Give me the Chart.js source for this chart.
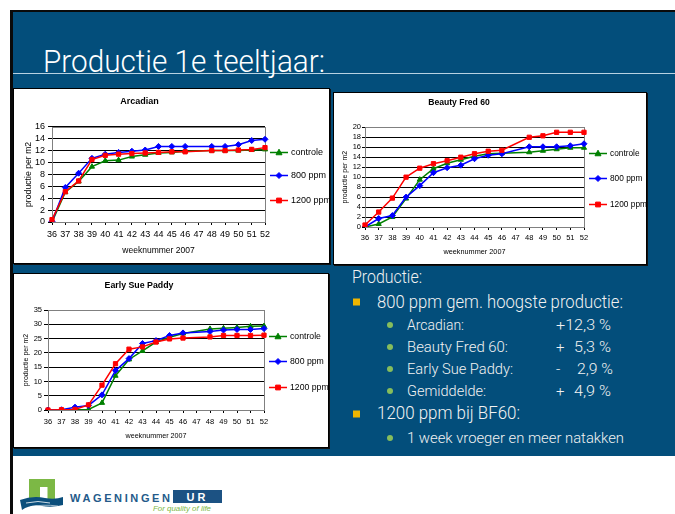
<!DOCTYPE html>
<html>
<head>
<meta charset="utf-8">
<script src="https://cdn.jsdelivr.net/npm/chart.js@4.4.1/dist/chart.umd.min.js"></script>
<style>
  html, body { margin: 0; padding: 0; background: #fff; }
  #page { position: relative; width: 675px; height: 514px; overflow: hidden; }
  .box { position: absolute; background: #fff; border: 1px solid #000; box-sizing: border-box; box-shadow: 1px 1px 0 #111; }
  .box canvas { position: absolute; left: 0; top: 0; }
  svg text { font-family: Roboto, "Liberation Sans", sans-serif; }
</style>
</head>
<body>
<div id="page">
<svg width="675" height="514" style="position:absolute;left:0;top:0">
  <rect width="675" height="514" fill="#ffffff"/>
  <rect x="13" y="12" width="662" height="444" fill="#034e7b"/>
  <rect x="10" y="10" width="665" height="2" fill="#0a0a0a"/>
  <rect x="10" y="10" width="3" height="504" fill="#0a0a0a"/>
  <line x1="13" y1="73.5" x2="675" y2="73.5" stroke="#b8d2e2" stroke-width="1.2"/>
  <text x="43" y="72" font-size="31" font-weight="300" fill="#ffffff" textLength="282" lengthAdjust="spacingAndGlyphs">Productie 1e teeltjaar:</text>

  <g fill="#f2f2f2" font-weight="300">
    <text x="352" y="283" font-size="18" textLength="70" lengthAdjust="spacingAndGlyphs">Productie:</text>
    <text x="377" y="308" font-size="18" textLength="246" lengthAdjust="spacingAndGlyphs">800 ppm gem. hoogste productie:</text>
    <text x="407" y="330" font-size="15" textLength="57" lengthAdjust="spacingAndGlyphs">Arcadian:</text>
    <text x="407" y="352" font-size="15" textLength="101" lengthAdjust="spacingAndGlyphs">Beauty Fred 60:</text>
    <text x="407" y="374" font-size="15" textLength="106" lengthAdjust="spacingAndGlyphs">Early Sue Paddy:</text>
    <text x="407" y="396" font-size="15" textLength="79" lengthAdjust="spacingAndGlyphs">Gemiddelde:</text>
    <text x="556" y="330" font-size="15" textLength="55" lengthAdjust="spacingAndGlyphs">+12,3 %</text>
    <text x="556" y="352" font-size="15">+</text>
    <text x="574" y="352" font-size="15" textLength="37" lengthAdjust="spacingAndGlyphs">5,3 %</text>
    <text x="556" y="374" font-size="15">-</text>
    <text x="577" y="374" font-size="15" textLength="36" lengthAdjust="spacingAndGlyphs">2,9 %</text>
    <text x="556" y="396" font-size="15">+</text>
    <text x="574" y="396" font-size="15" textLength="37" lengthAdjust="spacingAndGlyphs">4,9 %</text>
    <text x="377" y="419" font-size="18" textLength="143" lengthAdjust="spacingAndGlyphs">1200 ppm bij BF60:</text>
    <text x="407" y="443" font-size="15" textLength="217" lengthAdjust="spacingAndGlyphs">1 week vroeger en meer natakken</text>
  </g>
  <rect x="353" y="298.5" width="7" height="7" fill="#efb500"/>
  <rect x="353" y="410.5" width="7" height="7" fill="#efb500"/>
  <g fill="#86bd5c">
    <circle cx="390" cy="325" r="3"/>
    <circle cx="390" cy="347" r="3"/>
    <circle cx="390" cy="369" r="3"/>
    <circle cx="390" cy="391" r="3"/>
    <circle cx="390" cy="438" r="3"/>
  </g>

  <!-- logo -->
  <path d="M29,479 H55 V502 H47.5 V487 H40 V502 H29 Z" fill="#7cb845"/>
  <path d="M20,500 Q33,495 45,498 Q55,500 63,497 L63,505 Q52,508 42,506 Q30,504 22,510 Z" fill="#0b4f7c"/>
  <path d="M26,503 Q38,500 50,503" stroke="#ffffff" stroke-width="0.8" fill="none"/>
  <path d="M30,507 Q42,504 58,506" stroke="#ffffff" stroke-width="0.6" fill="none"/>
  <text x="70" y="502" font-size="11" font-weight="bold" fill="#245a8a" textLength="100" lengthAdjust="spacing" style="font-family:'Liberation Sans',sans-serif">WAGENINGEN</text>
  <rect x="173" y="490" width="49" height="13" fill="#1c5283"/>
  <text x="197.5" y="501" font-size="11" font-weight="bold" fill="#ffffff" text-anchor="middle" letter-spacing="3" style="font-family:'Liberation Sans',sans-serif">UR</text>
  <text x="153" y="511" font-size="8" font-style="italic" fill="#7cb845" textLength="58" lengthAdjust="spacingAndGlyphs" style="font-family:'Liberation Sans',sans-serif">For quality of life</text>
</svg>

<div class="box" style="left:13px;top:88px;width:317px;height:176px;"><canvas id="c1" width="315" height="174"></canvas></div>
<div class="box" style="left:333px;top:92px;width:314px;height:173px;"><canvas id="c2" width="312" height="171"></canvas></div>
<div class="box" style="left:13px;top:273px;width:316px;height:175px;"><canvas id="c3" width="314" height="173"></canvas></div>
</div>

<script>
// ---- data ----
const weeks = ['36','37','38','39','40','41','42','43','44','45','46','47','48','49','50','51','52'];
const seriesNames = ['controle', '800 ppm', '1200 ppm'];

const arcadianControle = [0, 5.0, 6.8, 9.3, 10.3, 10.4, 11.0, 11.3, 11.6, 11.7, 11.9, null, 12.0, 12.0, 12.0, 12.1, 12.2];
const arcadian800      = [0.1, 5.8, 8.2, 10.7, 11.4, 11.7, 11.9, 12.1, 12.7, 12.7, 12.7, null, 12.7, 12.7, 13.0, 13.7, 13.9];
const arcadian1200     = [0.4, 5.1, 6.9, 10.5, 11.2, 11.4, 11.5, 11.6, 11.7, 11.8, 11.8, null, 12.0, 12.0, 12.1, 12.2, 12.5];

const beautyControle = [0, 0.6, 2.0, 5.7, 9.5, 11.7, 12.8, 13.5, 14.2, 14.7, 14.8, null, 15.0, 15.3, 15.6, 15.9, 15.9];
const beauty800      = [0, 1.7, 2.3, 6.0, 8.3, 10.9, 11.9, 12.4, 13.7, 14.4, 14.7, null, 16.1, 16.1, 16.1, 16.3, 16.7];
const beauty1200     = [0.4, 3.0, 5.8, 10.0, 11.8, 12.7, 13.3, 14.0, 14.7, 15.2, 15.4, null, 18.0, 18.3, 19.0, 19.0, 19.0];

const sueControle = [0, 0, 0.1, 0.2, 2.5, 12.0, 17.7, 20.7, 23.8, 25.5, 26.8, null, 28.4, 28.6, 28.9, 29.3, 29.4];
const sue800      = [0, 0.1, 1.0, 1.6, 5.3, 13.8, 18.0, 23.3, 24.3, 26.1, 27.0, null, 27.5, 28.0, 28.2, 28.2, 28.5];
const sue1200     = [0, 0.1, 0.2, 1.8, 8.7, 16.2, 21.3, 22.1, 23.8, 24.9, 25.2, null, 25.6, 26.1, 26.1, 26.1, 26.2];

// ---- styles ----
const seriesColors = ['#008000', '#0000ff', '#ff0000'];
const seriesMarkers = ['triangle', 'rectRot', 'rect'];
const FONT = "'Liberation Sans', Arial, sans-serif";

function drawMarker(ctx, style, x, y, r, color) {
  ctx.save();
  ctx.fillStyle = color; ctx.strokeStyle = color; ctx.lineWidth = 1;
  ctx.beginPath();
  if (style === 'triangle') {
    ctx.moveTo(x, y - r * 1.1); ctx.lineTo(x + r, y + r * 0.75); ctx.lineTo(x - r, y + r * 0.75);
  } else if (style === 'rectRot') {
    ctx.moveTo(x, y - r); ctx.lineTo(x + r, y); ctx.lineTo(x, y + r); ctx.lineTo(x - r, y);
  } else {
    ctx.rect(x - r * 0.8, y - r * 0.8, r * 1.6, r * 1.6);
  }
  ctx.closePath(); ctx.fill(); ctx.stroke();
  ctx.restore();
}

const plotBorder = {
  id: 'plotBorder',
  beforeDatasetsDraw(chart) {
    const a = chart.chartArea, ctx = chart.ctx;
    ctx.save();
    ctx.strokeStyle = '#808080'; ctx.lineWidth = 1;
    ctx.strokeRect(Math.round(a.left) + 0.5, Math.round(a.top) + 0.5, Math.round(a.right - a.left), Math.round(a.bottom - a.top));
    ctx.restore();
  }
};

const sideLegend = {
  id: 'sideLegend',
  afterDraw(chart, args, opts) {
    const a = chart.chartArea, ctx = chart.ctx;
    const fr = [0.26, 0.51, 0.765];
    chart.data.datasets.forEach((ds, i) => {
      const y = Math.round(a.top + (a.bottom - a.top) * fr[i]) + 0.5;
      const x0 = a.right + 5;
      ctx.save();
      ctx.strokeStyle = ds.borderColor; ctx.lineWidth = 1.5;
      ctx.beginPath(); ctx.moveTo(x0, y); ctx.lineTo(x0 + 18, y); ctx.stroke();
      drawMarker(ctx, ds.pointStyle, x0 + 9, y, 3, ds.borderColor);
      ctx.fillStyle = '#000';
      ctx.font = opts.size + 'px ' + FONT;
      ctx.textBaseline = 'middle';
      ctx.fillText(ds.label, x0 + 21, y);
      ctx.restore();
    });
  }
};

function buildChart(id, title, series, yMax, yStep, g) {
  return new Chart(document.getElementById(id), {
    type: 'line',
    data: {
      labels: weeks,
      datasets: series.map((d, i) => ({
        label: seriesNames[i], data: d,
        borderColor: seriesColors[i], backgroundColor: seriesColors[i],
        pointStyle: seriesMarkers[i], pointRadius: 3, pointBorderWidth: 1,
        borderWidth: 1.5, spanGaps: true, tension: 0, order: 2 - i
      }))
    },
    options: {
      responsive: false, animation: false, devicePixelRatio: 1,
      layout: { padding: { left: 0, top: 0, bottom: 0, right: g.right } },
      plugins: {
        legend: { display: false },
        tooltip: { enabled: false },
        title: { display: true, text: title, color: '#000', font: { family: FONT, size: g.tf, weight: 'bold' }, padding: { top: g.tt, bottom: g.tb } },
        sideLegend: { size: g.lf }
      },
      scales: {
        x: {
          type: 'category', offset: false,
          grid: { drawOnChartArea: false, drawTicks: true, tickLength: 3, color: '#000' },
          border: { color: '#000', width: 1 },
          ticks: { color: '#000', font: { family: FONT, size: g.xf }, padding: g.xp, autoSkip: false, maxRotation: 0 },
          title: { display: true, text: 'weeknummer 2007', color: '#000', font: { family: FONT, size: g.xtf }, padding: { top: 0, bottom: g.xtp } },
          afterFit: s => { s.height = g.xH; }
        },
        y: {
          min: 0, max: yMax,
          grid: { color: '#000', lineWidth: 1, tickLength: g.ytl },
          border: { color: '#000', width: 1 },
          ticks: { stepSize: yStep, autoSkip: false, color: '#000', font: { family: FONT, size: g.yf }, padding: g.yp },
          title: { display: true, text: 'productie per m2', color: '#000', font: { family: FONT, size: g.ytf }, padding: { top: g.ytp, bottom: 0 } },
          afterFit: s => { s.width = g.yW; }
        }
      }
    },
    plugins: [plotBorder, sideLegend]
  });
}

buildChart('c1', 'Arcadian', [arcadianControle, arcadian800, arcadian1200], 16, 2,
  { right: 64, yW: 38, xH: 41, tf: 9, tt: 7, tb: 20, xf: 9, xp: 4, xtf: 8.5, xtp: 7, yf: 9, yp: 3, ytl: 4, ytf: 8.7, ytp: 9, lf: 9 });
buildChart('c2', 'Beauty Fred 60', [beautyControle, beauty800, beauty1200], 20, 2,
  { right: 62, yW: 31, xH: 37, tf: 8.6, tt: 4, tb: 20, xf: 7.5, xp: 3, xtf: 7.3, xtp: 7.5, yf: 7.5, yp: 1, ytl: 3, ytf: 7, ytp: 7, lf: 8.3 });
buildChart('c3', 'Early Sue Paddy', [sueControle, sue800, sue1200], 35, 5,
  { right: 64, yW: 34, xH: 37, tf: 8.8, tt: 6, tb: 19.5, xf: 7.5, xp: 4, xtf: 7.2, xtp: 6.7, yf: 7.5, yp: 2, ytl: 4, ytf: 7, ytp: 8, lf: 8.7 });
</script>
</body>
</html>
